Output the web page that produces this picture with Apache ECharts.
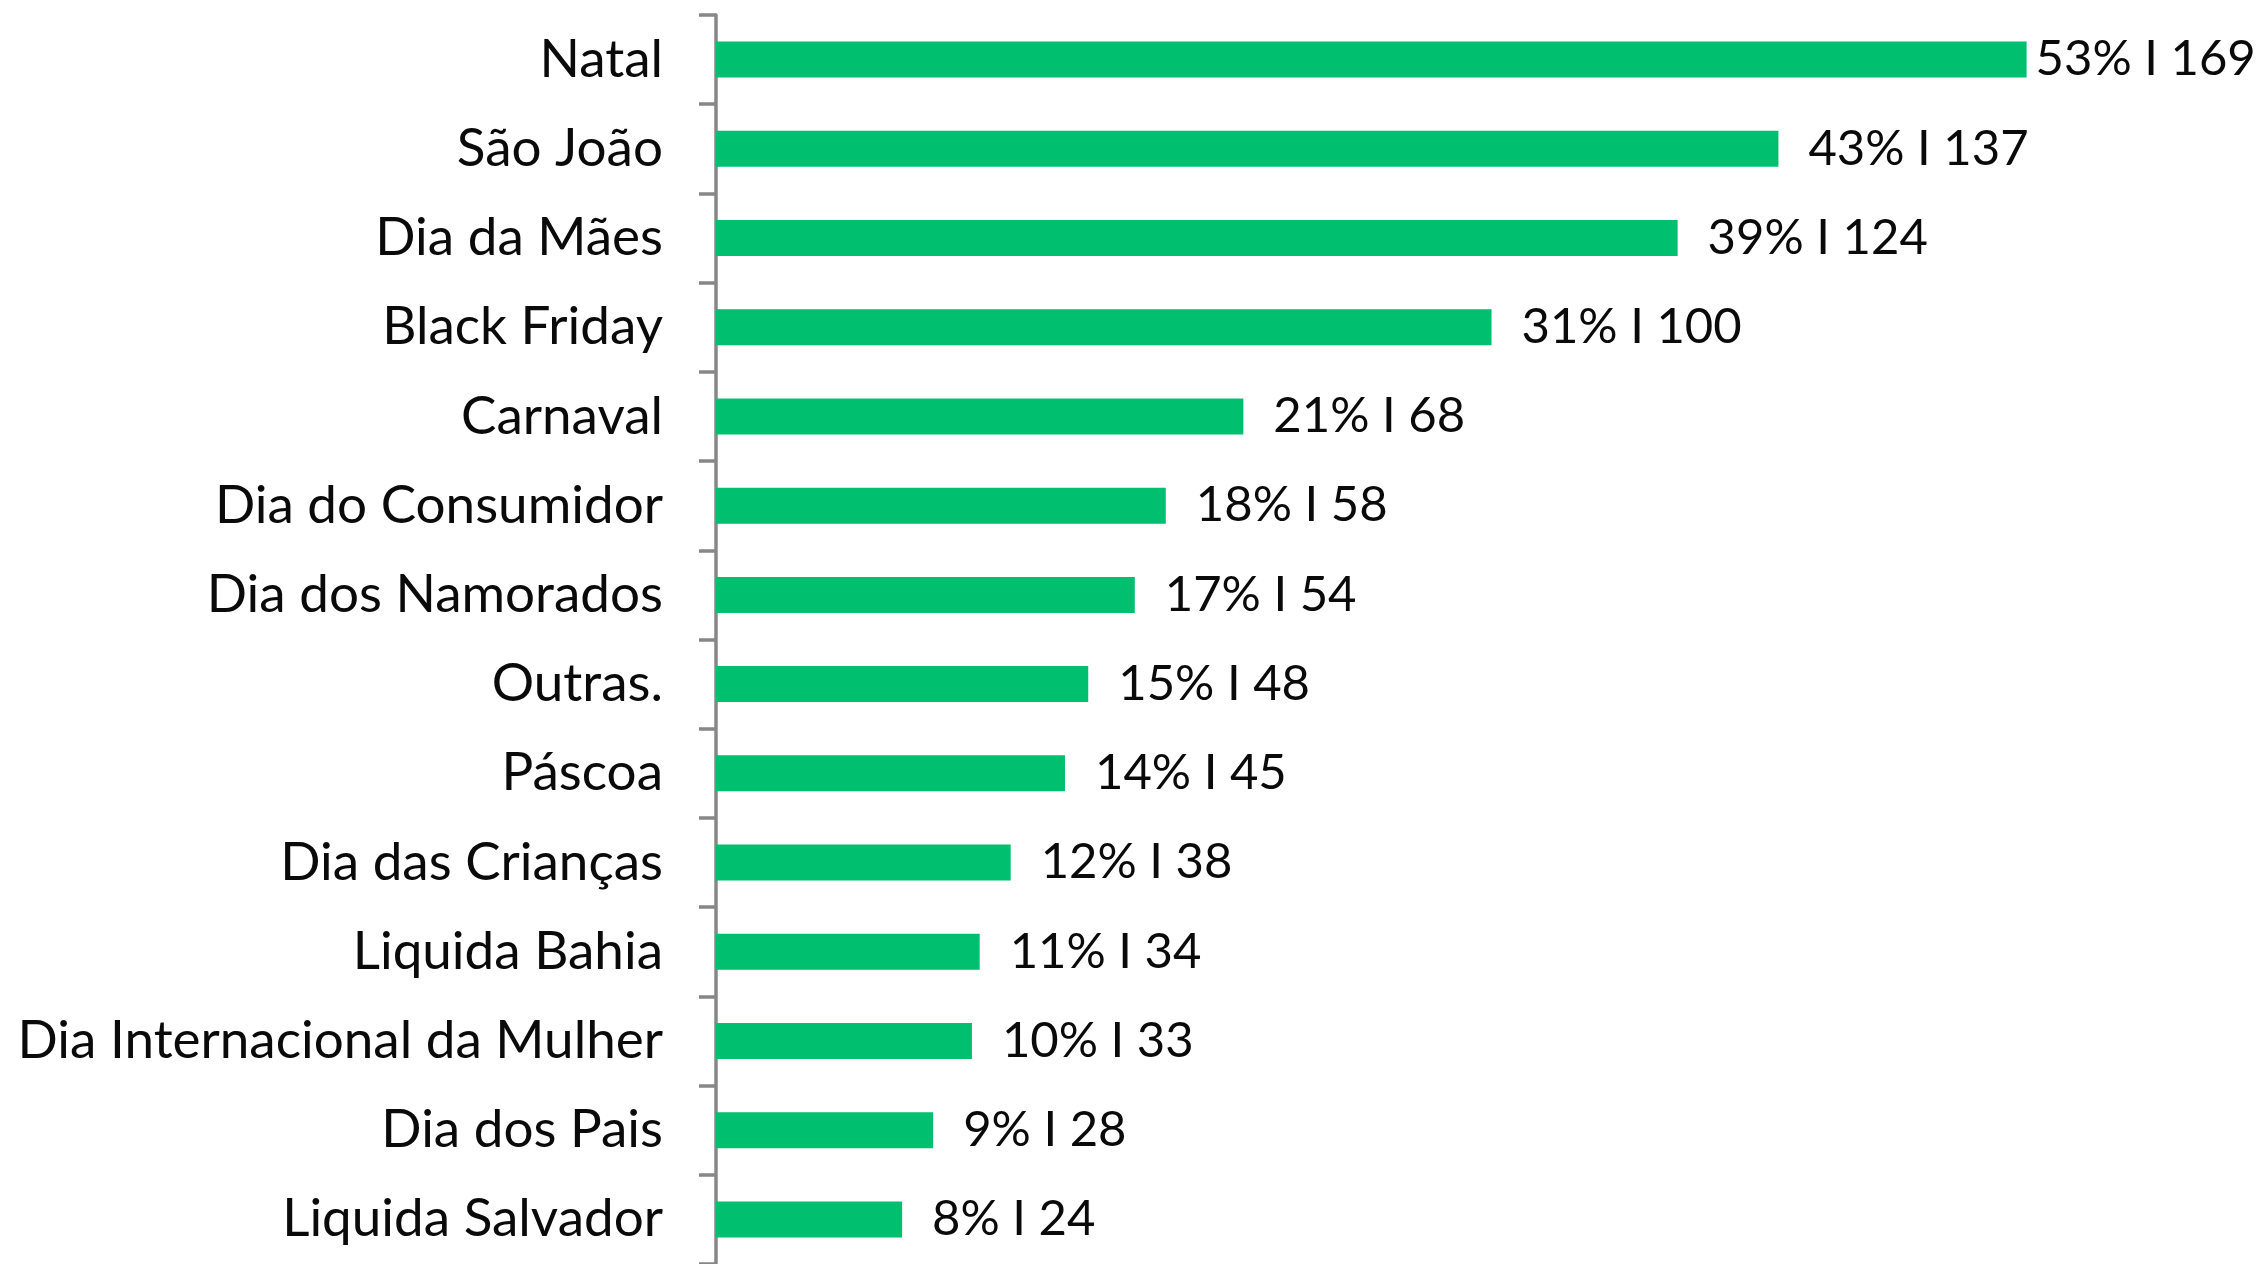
<!DOCTYPE html>
<html>
<head>
<meta charset="utf-8">
<script src="https://cdn.jsdelivr.net/npm/echarts@6/dist/echarts.min.js"></script>
<style>
  html, body { margin: 0; padding: 0; background: #fff; }
  #myChart { width: 2267px; height: 1264px; }
</style>
</head>
<body>
<div id="myChart"></div>
<script>
// categorias (de cima para baixo)
const categories = [
  'Natal', 'São João', 'Dia da Mães', 'Black Friday', 'Carnaval',
  'Dia do Consumidor', 'Dia dos Namorados', 'Outras.', 'Páscoa',
  'Dia das Crianças', 'Liquida Bahia', 'Dia Internacional da Mulher',
  'Dia dos Pais', 'Liquida Salvador'
];
// quantidade de respostas
const counts = [169, 137, 124, 100, 68, 58, 54, 48, 45, 38, 34, 33, 28, 24];
// percentual
const percents = [53, 43, 39, 31, 21, 18, 17, 15, 14, 12, 11, 10, 9, 8];

const fontFamily = 'Lato, "Open Sans", sans-serif';
const axisColor = '#878787';

let myChart = echarts.init(document.getElementById('myChart'));

let option = {
  animation: false,
  grid: {
    left: 716,
    top: 15,
    width: 1565,
    height: 1253.5
  },
  xAxis: {
    type: 'value',
    min: 0,
    max: 200,
    show: false
  },
  yAxis: {
    type: 'category',
    inverse: true,
    data: categories,
    axisLine: {
      show: true,
      lineStyle: { color: axisColor, width: 3.5 }
    },
    axisTick: {
      show: true,
      length: 17,
      lineStyle: { color: axisColor, width: 3.5 }
    },
    axisLabel: {
      color: '#0a0a0a',
      fontSize: 53,
      fontFamily: fontFamily,
      margin: 53
    },
    splitLine: { show: false }
  },
  series: [{
    type: 'bar',
    barWidth: 36,
    itemStyle: { color: '#00BF6E' },
    label: {
      show: true,
      position: 'right',
      distance: 30,
      color: '#0a0a0a',
      fontSize: 49,
      fontFamily: fontFamily,
      formatter: function (params) {
        let i = params.dataIndex;
        return percents[i] + '% I ' + counts[i];
      }
    },
    // o primeiro rótulo fica encostado na barra
    data: counts.map(function (v, i) {
      return i === 0 ? { value: v, label: { distance: 9 } } : v;
    })
  }]
};

myChart.setOption(option);
</script>
</body>
</html>
